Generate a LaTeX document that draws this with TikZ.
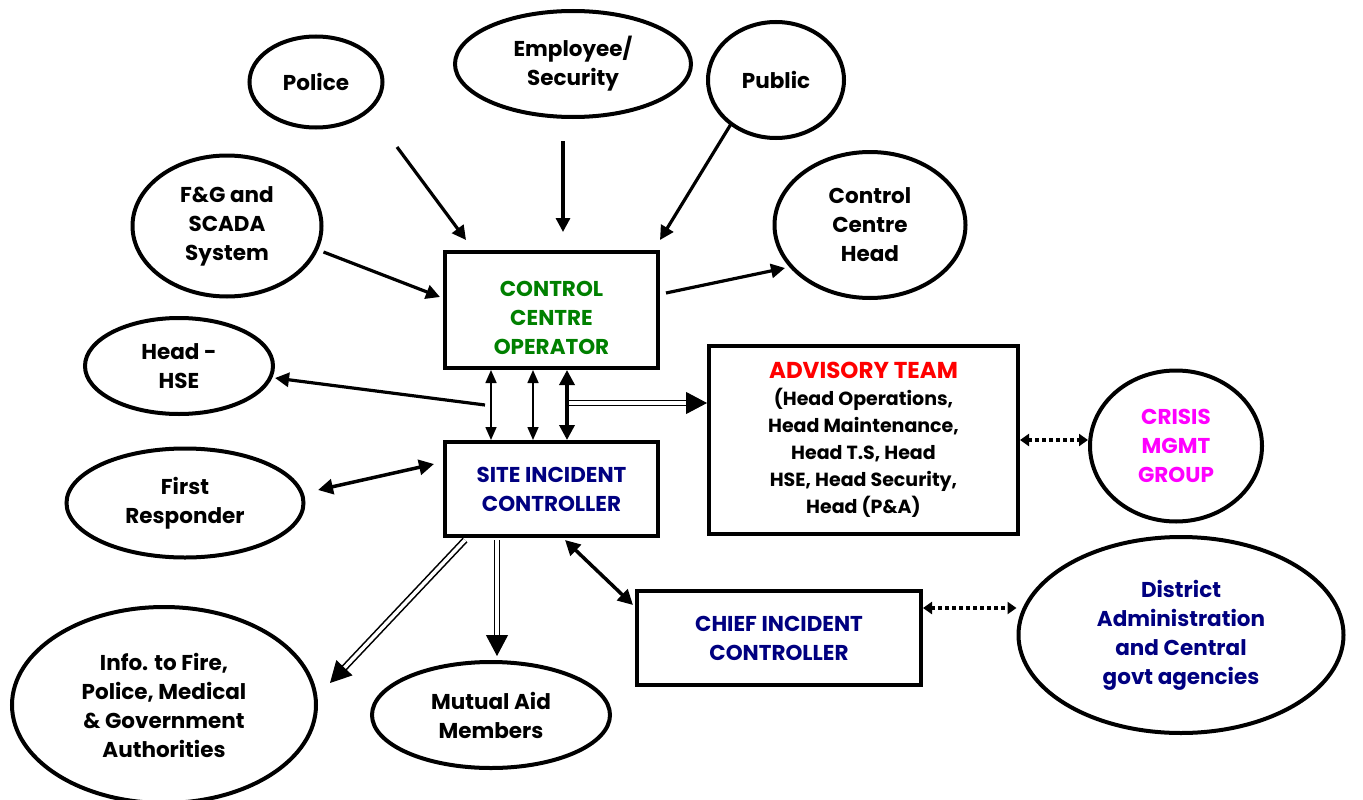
\documentclass[tikz,border=0pt]{standalone}
\usepackage{fontspec}
\setmainfont{Poppins}
\usetikzlibrary{arrows.meta,shapes.geometric}
\definecolor{ccgreen}{RGB}{0,128,0}
\definecolor{navyc}{RGB}{0,0,128}
\definecolor{magc}{RGB}{255,0,255}
\definecolor{redc}{RGB}{255,0,0}
\begin{document}
\begin{tikzpicture}[x=1pt,y=-1pt,
  txt/.style={align=center, font=\fontsize{21.5}{29}\selectfont\bfseries},
  ell/.style={draw, ellipse, line width=4pt, inner sep=0pt, txt},
  box/.style={draw, rectangle, line width=4pt, inner sep=0pt, txt},
  medarr/.style={line width=3.2pt, -{Triangle[length=14pt,width=14pt]}},
  thinarr/.style={line width=1.6pt, {Triangle[length=13pt,width=11pt]}-{Triangle[length=13pt,width=11pt]}},
  thickarr/.style={line width=3.5pt, {Triangle[length=15pt,width=15pt]}-{Triangle[length=15pt,width=15pt]}},
  dblline/.style={line width=1.6pt, double, double distance=3.5pt, shorten >=18pt},
  dbltip/.style={draw=white, line width=1pt, -{Triangle[color=black,fill=black,length=21pt,width=22pt]}},
  dotarr/.style={line width=3.5pt, dash pattern=on 3.5pt off 3.5pt, {Triangle[length=9pt,width=12pt]}-{Triangle[length=9pt,width=12pt]}}
]
\useasboundingbox (0,0) rectangle (1363,800);
\fill[white] (0,0) rectangle (1363,800);

% ellipses
\node[ell, minimum width=133pt, minimum height=91pt] (police) at (316,82) {Police};
\node[ell, minimum width=236pt, minimum height=106pt] (emp) at (573,64) {Employee/\\Security};
\node[ell, minimum width=136pt, minimum height=116pt] (public) at (776,80) {Public};
\node[ell, minimum width=189pt, minimum height=141pt] (fg) at (227,226) {F\&G and\\SCADA\\System};
\node[ell, minimum width=191pt, minimum height=146pt] (cch) at (870,225) {Control\\Centre\\Head};
\node[ell, minimum width=188pt, minimum height=96pt] (hse) at (179,366) {Head -\\HSE};
\node[ell, minimum width=237pt, minimum height=109pt] (fr) at (185,503) {First\\Responder};
\node[ell, minimum width=172pt, minimum height=151pt, text=magc] (crisis) at (1176,446) {CRISIS\\MGMT\\GROUP};
\node[ell, minimum width=325pt, minimum height=196pt, text=navyc] (district) at (1181,635) {District\\Administration\\and Central\\govt agencies};
\node[ell, minimum width=304pt, minimum height=196pt] (info) at (164,705) {Info. to Fire,\\Police, Medical\\\& Government\\Authorities};
\node[ell, minimum width=238pt, minimum height=106pt] (mutual) at (491,715) {Mutual Aid\\Members};

% boxes
\node[box, minimum width=213pt, minimum height=116pt] (cco) at (551.5,310) {};
\node[txt, text=ccgreen] (ccot) at (551.5,318) {CONTROL\\CENTRE\\OPERATOR};
\node[box, minimum width=309pt, minimum height=188pt, font=\fontsize{19}{27}\selectfont\bfseries] (adv) at (863.5,440)
  {{\color{redc}\fontsize{23}{27}\selectfont ADVISORY TEAM}\\
   (Head Operations,\\ Head Maintenance,\\ Head T.S, Head\\ HSE, Head Security,\\ Head (P\&A)};
\node[box, minimum width=213pt, minimum height=94pt, text=navyc] (sic) at (551.5,489) {SITE INCIDENT\\CONTROLLER};
\node[box, minimum width=284pt, minimum height=94pt, text=navyc] (cic) at (779,638) {CHIEF INCIDENT\\CONTROLLER};

% arrows into CCO
\draw[medarr] ([shift={(81,17.5)}]police.south) -- ([shift={(23,-10)}]cco.north west);
\draw[medarr] ([shift={(-10,22)}]emp.south) -- ([shift={(11.5,-18)}]cco.north);
\draw[medarr] ([shift={(-45,-16)}]public.south) -- ([shift={(0,-10)}]cco.north east);
\draw[medarr] ([shift={(0,26)}]fg.east) -- ([shift={(-3,-13)}]cco.west);
\draw[medarr] ([shift={(6,-17)}]cco.east) -- ([shift={(12.5,43)}]cch.west);
\draw[medarr] ([shift={(42,-35)}]sic.north west) -- ([shift={(0,12)}]hse.east);

% CCO <-> SIC
\draw[thinarr] ([shift={(48,0)}]cco.south west) -- ([shift={(48,0)}]sic.north west);
\draw[thinarr] ([shift={(90,0)}]cco.south west) -- ([shift={(90,0)}]sic.north west);
\draw[thickarr] ([shift={(124,0)}]cco.south west) -- ([shift={(124,0)}]sic.north west);
\draw[dblline] ([shift={(126,33)}]cco.south west) -- ([shift={(0,-37)}]adv.west);
\draw[dbltip] ([shift={(126,33)}]cco.south west) -- ([shift={(0,-37)}]adv.west);

% first responder
\draw[thickarr] ([shift={(12.5,-13)}]fr.east) -- ([shift={(-9,-25)}]sic.west);

% from SIC
\draw[dblline] ([shift={(22,2)}]sic.south west) -- ([shift={(12,-22)}]info.east);
\draw[dbltip] ([shift={(22,2)}]sic.south west) -- ([shift={(12,-22)}]info.east);
\draw[dblline] ([shift={(54,2)}]sic.south west) -- ([shift={(6,-4)}]mutual.north);
\draw[dbltip] ([shift={(54,2)}]sic.south west) -- ([shift={(6,-4)}]mutual.north);
\draw[thickarr] ([shift={(122,2)}]sic.south west) -- ([shift={(-2,-33)}]cic.west);

% dotted
\draw[dotarr] (adv.east) -- (adv.east -| crisis.west);
\coordinate (d1) at ([shift={(0,-30)}]cic.east);
\draw[dotarr] (d1) -- (d1 -| district.west);
\end{tikzpicture}
\end{document}
